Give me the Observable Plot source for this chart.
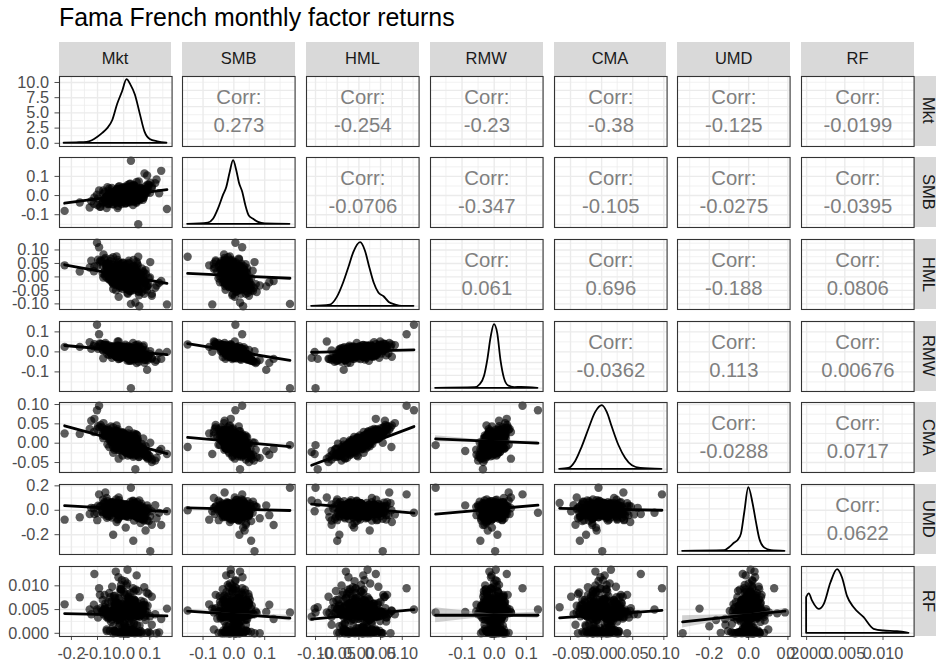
<!DOCTYPE html>
<html><head><meta charset="utf-8">
<script src="https://cdn.jsdelivr.net/npm/d3@7"></script>
<script src="https://cdn.jsdelivr.net/npm/@observablehq/plot@0.6"></script>
<style>
body{margin:0;background:#fff;overflow:hidden;}
#root{position:relative;width:936px;height:664px;overflow:hidden;font-family:"Liberation Sans",Arial,Helvetica,sans-serif;background:#fff;}
.abs{position:absolute;}
.strip{background:#d9d9d9;color:#1a1a1a;font-size:16.5px;display:flex;align-items:center;justify-content:center;}
.strip.right span{writing-mode:vertical-rl;}
</style></head>
<body><div id="root"></div>
<script>
const factors = ["Mkt","SMB","HML","RMW","CMA","UMD","RF"];

// monthly factor returns, in percent (one entry per month, aligned by index)
const Mkt = [2.1,-3.4,0.8,4.6,-1.2,1.9,-5.8,3.3,0.2,-2.5,
6.1,1.1,-0.7,2.8,-4.1,0.5,3.9,-1.8,1.5,-7.2,
4.2,0.9,-2.9,2.4,7.5,-0.3,1.7,-3.8,0.1,5.2,
-1.5,2.9,-6.4,1.3,3.6,-2.1,0.6,8.3,-0.9,2.2,
-4.7,1.0,4.9,-2.6,0.4,3.1,-9.1,1.8,-0.5,5.7,
-3.1,2.6,0.0,-1.4,6.8,1.4,-5.2,3.5,-0.1,2.0,
-2.3,4.4,0.7,-8.0,1.6,3.0,-1.0,9.6,-3.6,0.3,
2.7,-4.4,1.2,5.0,-0.6,-11.4,3.8,0.9,-2.0,4.0,
-6.9,1.9,2.5,-1.1,10.8,0.2,-3.2,3.4,-0.8,6.4,
-1.7,1.5,-13.0,2.3,0.6,-4.0,4.7,1.1,-2.7,12.6,
-0.4,3.2,-9.8,0.8,5.5,-1.9,2.1,-16.8,13.6,-7.8,
-22.6,16.6,2.8,5.6,-10.2,10.2,3.7,-9.4,-12.4,-11.2,
14.4,8.4,-4.0,1.5,-3.0,5.0,9.0,6.0,4.5,8.0,
-7.0,-6.5,4.0,6.5,-2.0,0.5,-1.0,
2.5,-4.0,6.7,1.1,-8.8,5.2,-1.4,9.2,1.8,-3.4,
4.3,-5.9,0.5,7.7,-2.0,3.1,-10.1,5.8,0.0,3.6,
-4.9,10.8,-0.7,2.2,-7.0,4.7,-2.3,8.6,1.6,-4.5,
6.1,-0.4,3.2,-7.7,4.1,-1.1,10.1,0.7,-2.9,5.0,
-5.4,2.7,-1.6,7.0,-3.6,1.3,12.1,-2.5,4.0,-0.5,
2.0,-6.5,7.2,0.4,-3.1,4.5,-0.9,5.4,-4.3,2.9,
-7.2,1.4,3.8,-1.8,6.3,-0.2,2.3,-5.0,8.3,0.9,
-2.2,4.9,-1.3,3.4,-6.1,0.2,9.5,-0.7,2.5,-3.8,
5.6,-1.6,1.6,-8.3,3.6,0.5,-2.7,7.4,-1.1,3.1,
-4.7,1.1,4.3,-0.5,6.5,-3.2,1.8,-5.6,4.0,0.2,
-1.8,5.9,1.4,-4.1,2.7,-0.4,7.9,-6.7,0.7,3.2,
-1.4,4.7,-3.4,1.1,6.8,-2.0,2.2,-5.2,1.6,5.2,
-0.9,2.9,-6.3,0.4,4.1,-2.5,8.8,0.0,-4.0,2.3,
5.4,-1.3,3.4,-2.9,0.9,4.9,-4.7,2.0,-0.5,5.9,
2.0,-3.3,4.6,-0.9,-7.3,3.7,0.4,7.0,-4.2,2.4,
0.9,-5.3,3.5,-1.3,5.5,-2.4,-5.9,9.0,1.3,-6.2,
2.0,5.9,-2.0,7.5,-2.6,0.0,-7.9,2.9,-0.4,4.8,
-3.1,4.0,-1.5,-4.0,6.4,-0.7,1.8,-4.8,3.1,-0.2,
1.1,5.3,-3.5,1.5,-1.1,2.2,7.9,-4.4,0.7,-1.8,
4.2,-2.2,3.3,-2.9,1.3,-2.0,4.4,0.2,-5.5,1.8,
-1.5,6.6,-3.7,0.0,2.6,-2.2,5.1,-3.1,1.1,-0.4,
2.6,-4.6,0.9,3.7,-0.2,-2.4,5.7,1.5,-0.7,-4.2,
1.3,5.9,-1.1,-5.1,2.4,-1.3,0.7,-2.6,3.3,-0.9,
-1.8,4.6,-3.3,0.2,4.2,-2.9,1.1,3.1,-1.5,2.0];
const SMB = [1.2,-2.1,-0.9,2.7,0.6,-1.8,-3.9,3.6,0.4,1.5,
1.0,-2.6,2.2,0.3,-1.1,4.3,-0.5,-3.2,1.8,-2.4,
5.1,-0.2,0.9,-3.5,3.0,-1.4,2.9,-4.6,0.0,1.9,
-0.7,4.0,-0.3,-2.0,0.8,-5.4,1.3,4.8,-1.6,2.4,
-2.8,0.5,-1.3,3.4,-0.4,1.6,-5.9,-0.8,2.6,0.2,
-1.9,6.2,-3.0,1.1,2.1,-1.2,0.4,-2.3,3.8,0.7,
-0.6,3.1,-4.1,-3.4,1.7,-0.1,-2.5,5.6,0.6,2.0,
-1.5,-2.2,0.9,7.1,-0.9,-4.3,1.4,-3.7,2.8,-0.3,
-1.0,3.3,-2.7,0.1,3.9,-1.7,1.6,0.4,-4.4,2.5,
0.8,4.6,-6.2,-0.6,1.0,-3.1,0.0,2.3,-1.3,8.4,
-2.9,1.9,-1.5,3.0,-2.2,0.3,-0.8,-3.6,1.2,2.7,
-8.0,-7.0,18.2,-15.0,0.5,6.7,5.6,2.7,-3.0,-1.0,
12.9,3.5,1.8,-1.0,2.0,-2.5,10.5,3.0,2.0,11.5,
-3.0,-6.5,1.5,4.0,0.5,0.5,-2.0,
1.6,-2.7,3.8,-0.7,-5.9,3.1,0.4,5.8,-3.4,2.0,
0.7,-4.3,2.9,-1.1,4.5,-2.0,-4.9,7.4,1.1,-5.0,
1.6,4.9,-1.6,6.1,-2.2,0.0,-6.5,2.3,-0.4,4.0,
-2.5,3.2,-1.3,-3.2,5.2,-0.5,1.4,-4.0,2.5,-0.2,
0.9,4.3,-2.9,1.3,-0.9,1.8,6.5,-3.6,0.5,-1.4,
3.4,-1.8,2.7,-2.3,1.1,-1.6,3.6,0.2,-4.5,1.4,
-1.3,5.4,-3.1,0.0,2.2,-1.8,4.1,-2.5,0.9,-0.4,
2.2,-3.8,0.7,3.1,-0.2,-2.0,4.7,1.3,-0.5,-3.4,
1.1,4.9,-0.9,-4.1,2.0,-1.1,0.5,-2.2,2.7,-0.7,
-1.4,3.8,-2.7,0.2,3.4,-2.3,0.9,2.5,-1.3,1.6,
-3.8,2.9,-0.5,1.3,-1.8,4.3,0.4,-3.1,2.3,-1.6,
0.0,3.2,-2.0,1.1,-1.4,3.4,-2.9,0.7,1.8,-0.4,
-3.2,4.0,-0.7,1.4,-2.5,2.0,2.5,-1.1,0.4,-0.2,
3.6,-2.7,0.9,1.6,-1.6,2.2,-1.1,2.9,-2.2,0.7,
2.4,-0.8,1.1,-2.9,1.7,3.8,-1.3,0.6,-0.4,2.9,
-1.7,0.8,1.4,-3.6,0.3,2.0,-4.5,1.6,-0.9,4.4,
-2.2,-0.5,1.9,-1.1,3.2,-2.4,0.9,-0.2,2.6,-3.3,
0.1,1.5,-0.6,-1.9,3.0,0.5,-2.7,1.2,4.9,-1.4,
2.2,-0.1,-3.1,1.8,-0.7,0.7,2.3,-1.6,3.5,-2.0,
0.2,1.0,-1.2,2.7,-0.3,1.3,-2.5,0.4,3.7,-0.8,
-1.0,1.9,-2.3,0.6,2.1,-0.2,-1.5,1.6,-0.6,2.5,
-1.8,0.0,3.1,-0.7,-2.6,1.0,0.9,-0.4,1.7,-1.2,
2.2,-1.9,0.3,-0.6,4.1,-1.0,0.8,-2.1,1.4,-0.3,
2.8,-1.6,0.5,1.2,-0.9,0.1,2.0,-2.8,0.7,-1.1];
const HML = [-0.8,1.9,0.4,-2.2,3.1,-0.3,2.6,-1.7,1.2,-0.9,
-3.0,2.3,0.0,1.5,4.4,-2.6,0.6,-1.4,3.6,1.0,
-4.1,0.9,-2.0,2.8,-1.1,5.2,-0.6,0.2,-3.3,1.4,
1.7,-2.9,3.8,0.1,-0.7,2.0,-1.5,-4.6,0.8,4.9,
-0.5,-3.8,2.2,0.5,1.1,-1.2,5.6,0.7,-2.3,0.3,
3.3,-5.2,1.6,-0.2,-2.0,2.6,0.9,3.9,-1.0,-0.4,
6.3,-3.4,0.2,1.3,-1.9,2.9,-0.8,-0.5,-1.6,4.1,
1.0,3.0,-4.5,-2.7,0.6,2.1,-0.1,3.4,-2.4,1.8,
4.7,-1.3,0.0,-3.6,-6.3,2.5,-0.6,1.2,4.8,0.8,
-1.8,-5.9,3.5,0.4,-0.9,2.4,-2.5,1.9,7.6,-3.2,
0.3,-4.0,6.4,-1.1,1.5,-7.4,2.7,2.0,-2.2,-0.2,
4.3,-10.2,-10.0,7.5,12.7,5.5,-5.0,11.0,6.0,3.9,
-1.5,2.5,-4.5,2.0,-3.0,1.0,-3.5,-10.9,-9.5,-2.0,
7.0,3.0,3.0,-1.0,5.5,-1.0,0.5,
-2.2,3.6,-0.9,2.0,6.1,-4.3,1.3,-3.2,5.2,-1.6,
0.5,2.9,-3.8,1.6,-2.7,3.2,4.1,-5.6,0.9,-0.5,
6.8,-7.0,-0.4,2.3,0.2,-2.9,4.9,1.1,-6.3,1.8,
-1.3,4.0,-1.8,8.3,-4.7,0.4,-0.2,2.7,-5.0,5.6,
-1.1,1.4,-3.4,3.1,0.7,-1.4,-4.0,4.5,-0.7,2.5,
-2.3,3.8,-1.6,0.0,3.4,-3.6,1.1,4.3,-2.0,1.6,
2.2,-3.1,6.3,-0.9,0.4,2.3,-5.2,1.4,-2.0,3.6,
-0.5,0.9,-2.5,2.9,5.0,-1.3,-2.7,0.7,-4.1,3.1,
0.2,-1.1,1.8,5.8,-3.4,1.1,-1.8,2.0,3.4,-0.4,
-1.6,4.7,-2.2,0.5,-0.7,2.5,-2.9,0.0,4.0,-0.7,
1.3,-4.5,2.2,-2.3,0.7,3.2,-1.4,4.3,-0.2,2.7,
-4.0,1.6,1.8,-1.3,0.5,0.9,-2.5,3.1,-0.9,4.9,
-1.4,0.4,1.1,-3.2,2.2,4.1,-3.6,0.2,-2.7,1.3,
-1.1,2.9,-2.0,1.6,-0.5,3.4,-0.4,0.9,-3.1,1.4,
-1.5,3.3,-2.5,1.0,6.5,-4.0,0.8,-5.5,3.5,0.5,
-1.0,4.8,-3.0,-2.0,-1.3,2.3,5.0,-5.0,0.3,-0.5,
6.0,-6.8,1.5,0.3,2.8,-2.3,4.0,-3.5,-4.5,2.0,
-1.8,2.5,-0.8,7.3,-4.3,1.3,-4.8,1.8,-2.0,3.0,
2.3,0.0,-1.5,-0.3,1.5,-1.3,-6.3,4.5,-2.8,0.8,
-1.0,3.8,-3.3,0.5,2.8,-3.0,1.0,1.5,-0.8,0.0,
4.3,-2.3,3.5,0.5,-1.5,2.3,-3.8,2.0,-4.0,2.5,
-0.3,0.5,-1.8,1.3,5.3,-1.0,-5.3,1.8,-3.3,3.0,
-1.5,0.0,2.0,5.8,-2.8,0.3,-0.5,-1.3,3.3,-0.8,
1.0,2.8,-2.0,0.8,-3.5,3.8,-2.0,1.5,2.3,-0.3];
const RMW = [-0.5,1.3,0.6,-1.9,0.2,1.5,2.4,-2.8,-0.3,0.9,
-1.0,2.1,-1.6,0.4,-0.2,-1.2,1.1,0.0,-2.2,3.5,
-3.4,0.8,1.7,0.3,-2.5,-0.8,0.5,2.9,-1.4,0.1,
1.0,-1.8,1.9,-0.6,-0.9,3.1,0.7,-3.9,-0.1,1.2,
0.4,-2.0,0.9,-1.1,1.8,-0.4,4.2,0.2,-2.6,-0.7,
1.4,-4.5,0.0,2.2,-1.3,-0.1,0.6,1.6,-1.5,0.3,
-1.7,-0.2,2.6,1.1,-0.9,0.8,-0.4,-2.1,2.0,-0.8,
-2.3,0.5,1.3,-5.6,0.1,2.8,1.0,-0.5,-1.0,0.6,
3.6,-0.3,1.9,-2.9,-3.0,0.9,-0.6,0.2,1.5,-1.6,
0.4,-3.3,4.8,-1.1,2.4,0.7,-0.5,1.1,-2.4,-4.1,
0.8,-1.9,1.6,-0.7,2.3,5.2,-0.2,2.5,-0.4,-3.2,
2.5,0.0,-18.2,3.7,13.6,0.3,-4.3,8.8,1.5,3.9,
-3.5,-2.0,1.0,0.5,-1.5,-0.8,-9.0,-3.0,-3.5,-5.5,
4.5,3.0,-1.0,-2.5,1.5,0.8,1.5,
0.5,2.0,-2.5,0.9,4.0,-1.6,-0.4,-4.1,2.9,-1.3,
1.6,0.4,-2.2,3.2,-3.6,0.0,2.5,-4.9,1.3,4.5,
-0.7,-3.4,2.2,-4.5,1.4,-0.5,5.2,-1.8,0.7,-2.9,
2.7,-1.4,0.2,3.4,-3.1,1.1,-1.1,3.6,-2.3,0.5,
-0.2,-3.8,2.3,-0.9,1.6,-0.7,-5.0,3.1,0.4,-1.1,
-1.6,2.2,1.1,-0.4,0.7,1.8,-2.7,-0.2,2.5,0.0,
1.3,-4.3,2.0,0.4,-2.0,2.7,-0.9,0.2,0.9,-1.6,
0.5,3.4,-1.1,-2.3,1.4,0.0,-3.2,0.9,1.8,2.3,
-1.3,-3.4,1.4,3.8,-0.7,0.4,-0.5,2.5,-1.8,1.1,
0.7,-2.9,3.1,-0.4,-2.2,1.6,0.0,-1.4,1.3,-0.7,
2.9,-2.0,0.5,-0.9,2.2,-2.5,-0.4,1.8,-1.3,1.4,
0.2,-2.7,2.0,-0.2,1.1,-2.2,2.3,0.4,-1.1,0.7,
2.5,-3.6,0.9,-0.5,1.8,-1.6,-2.3,1.1,-0.7,0.4,
-2.5,2.7,-0.4,-1.3,1.6,-1.4,1.3,-2.0,1.4,0.2,
-0.8,1.3,-2.2,-0.4,2.9,-1.7,0.5,-3.1,-0.6,1.1,
-1.4,2.0,-0.2,-2.6,0.7,-1.0,3.4,-1.9,0.0,-1.2,
1.6,-3.6,0.2,-0.7,2.3,-1.6,0.8,-2.9,-0.5,1.5,
-2.0,0.1,-1.1,2.6,-1.4,0.4,-3.4,-0.2,1.0,-1.7,
1.8,-0.9,0.5,-2.3,1.2,-0.4,-4.0,0.8,-1.3,0.2,
-0.7,2.2,-2.4,-0.1,1.0,-1.5,0.3,-1.8,1.4,-1.0,
2.4,-0.5,-1.3,0.6,-2.1,0.1,-0.8,1.7,-2.8,-0.3,
0.7,-1.6,0.4,-1.1,2.0,-0.1,-3.2,0.2,-0.8,1.3,
-1.9,0.5,-0.5,2.8,-1.2,-0.2,0.9,-2.5,0.4,-1.0,
1.6,-0.4,-1.4,0.2,-2.2,1.1,-0.6,1.9,-1.3,-0.1];
const CMA = [-0.9,1.6,-0.4,-1.8,1.2,0.7,2.3,-1.5,0.9,-0.6,
-2.4,0.5,1.4,0.2,3.0,-1.9,-0.8,0.1,2.1,1.9,
-2.9,-0.3,0.3,1.0,-2.2,2.7,-1.1,1.1,-1.3,-0.5,
0.0,-2.0,3.3,0.6,-0.2,1.7,-1.6,-3.4,0.4,1.8,
0.8,-2.5,0.2,-0.7,1.5,-0.9,4.1,-0.1,-0.4,-1.2,
2.4,-3.0,0.3,0.9,-2.6,1.3,0.5,1.1,-1.0,0.0,
3.6,-2.1,0.8,2.0,-0.6,0.9,-1.4,-3.1,0.2,2.2,
-0.3,1.0,-2.3,-1.7,0.6,2.9,-1.3,1.9,-0.2,0.4,
2.6,-0.5,-0.7,-1.2,-4.2,1.0,0.7,0.1,2.8,-1.5,
-0.8,-2.7,3.7,-0.4,0.3,1.4,-1.1,1.6,4.6,-3.8,
-0.2,-2.8,4.4,-0.9,-0.6,-4.0,1.2,2.4,-2.0,1.3,
2.5,-2.8,-0.5,-1.0,8.5,0.1,-3.5,9.7,5.8,6.3,
-1.5,-0.8,-2.5,1.5,-1.0,0.5,-2.0,-2.3,-6.75,-3.0,
3.5,2.0,1.0,-1.5,2.5,-0.5,0.8,
-1.1,2.3,-1.8,0.7,4.7,-2.9,0.5,-4.0,2.5,0.4,
-0.7,3.4,-2.2,-1.4,-0.9,1.6,3.6,-3.6,0.2,-0.4,
4.3,-4.9,1.1,0.2,2.0,-1.6,2.9,-2.5,-3.2,1.4,
-1.3,1.8,-0.5,5.2,-3.1,0.9,-3.4,1.3,-1.4,2.2,
1.6,0.0,-1.1,-0.2,1.1,-0.9,-4.5,3.2,-2.0,0.5,
-0.7,2.7,-2.3,0.4,2.0,-2.2,0.7,1.1,-0.5,0.0,
3.1,-1.6,2.5,0.4,-1.1,1.6,-2.7,1.4,-2.9,1.8,
-0.2,0.4,-1.3,0.9,3.8,-0.7,-3.8,1.3,-2.3,2.2,
-1.1,0.0,1.4,4.1,-2.0,0.2,-0.4,-0.9,2.3,-0.5,
0.7,2.0,-1.4,0.5,-2.5,2.7,-1.4,1.1,1.6,-0.2,
0.9,-3.1,0.7,0.2,-0.4,1.6,-2.2,3.4,-0.4,1.1,
-1.8,-0.2,1.8,-0.9,-1.6,0.9,-0.7,2.5,-0.7,2.0,
0.0,-0.5,2.9,-2.0,0.5,3.1,-3.6,0.7,-1.1,0.4,
-1.8,1.6,-1.1,1.3,0.0,0.7,1.4,0.2,-1.3,-0.7,
-1.1,1.8,-0.5,1.0,3.1,-2.2,0.6,-1.6,2.6,-0.8,
0.3,1.4,-1.9,0.8,-1.4,1.6,2.1,-2.8,0.5,-0.3,
3.4,-3.5,-0.2,1.2,0.1,-1.4,2.4,0.5,-3.2,0.9,
-0.6,2.0,-0.9,4.1,-2.3,0.2,-0.1,1.4,-2.5,2.8,
-0.5,0.7,-1.7,1.5,0.4,-0.7,-2.0,2.3,-0.4,1.3,
-1.2,1.9,-0.8,0.0,1.7,-1.8,0.5,2.2,-1.0,0.8,
1.1,-1.5,3.2,-0.5,0.2,1.2,-2.6,0.7,-1.0,1.8,
-0.3,0.5,-1.3,1.4,2.5,-0.6,-1.4,0.4,-2.1,1.5,
0.1,-0.5,0.9,2.9,-1.7,0.5,-0.9,1.0,1.7,-0.2,
-0.8,2.3,-1.1,0.3,-0.4,1.3,-1.4,0.0,2.0,-0.4];
const UMD = [1.8,-0.5,2.9,-1.4,0.6,4.1,-2.2,0.3,-3.5,1.0,
-0.9,2.2,5.3,-0.2,1.5,-4.4,0.8,3.4,-1.1,2.6,
-2.7,0.1,6.2,-0.7,-3.9,1.3,3.0,-1.8,0.5,-0.4,
2.0,4.7,-6.1,1.2,-2.4,0.9,3.7,-5.0,1.6,-0.1,
2.4,-2.9,0.4,5.8,-1.5,1.9,3.2,-0.8,2.7,-4.8,
0.7,7.1,-1.2,3.9,-2.0,0.0,4.4,-3.1,1.1,2.5,
-7.5,0.2,3.6,-1.6,1.4,-0.6,4.9,-8.9,2.1,-2.6,
0.9,6.6,-0.3,2.8,-4.1,1.7,0.4,-1.9,3.3,-0.9,
2.3,-5.5,1.0,4.2,-11.8,0.6,2.0,-1.3,3.1,-2.3,
8.2,1.5,-3.0,0.3,-0.7,4.6,-1.7,2.6,-9.6,-6.5,
1.9,-0.2,3.8,-14.2,0.8,10.4,-1.0,-5.7,-2.1,5.1,
-7.7,-0.8,18.5,0.0,-2.0,-33.6,-25.0,13.0,2.0,-3.0,
-12.0,-16.6,-20.0,1.0,3.0,-1.5,4.0,8.0,6.0,-4.0,
14.5,10.0,-8.5,-10.5,-7.0,2.0,-2.0,
4.3,-1.4,2.0,-5.2,3.1,6.8,-2.3,1.1,-0.7,5.2,
-3.1,1.4,2.5,-6.5,0.5,3.6,-8.1,2.9,-1.6,7.9,
-4.0,-0.9,3.4,-2.0,5.8,-4.3,1.6,-0.4,4.7,-5.9,
0.2,2.7,-1.1,-3.4,5.4,0.9,-4.9,2.2,8.8,-2.5,
4.0,-0.2,-5.6,3.2,-1.3,1.3,4.1,-2.9,6.3,-3.6,
0.4,1.8,-2.2,4.9,-0.5,2.3,-4.5,0.7,6.7,-1.4,
-1.8,3.4,-4.1,1.1,3.8,-0.4,-2.7,2.9,-1.1,4.5,
-3.2,0.0,5.6,-1.3,-4.7,1.8,1.6,-0.7,3.1,-2.2,
4.0,-3.4,0.5,-1.1,7.4,-1.8,1.4,-3.8,2.5,-0.5,
5.0,-2.9,0.9,2.2,-1.6,0.2,3.6,-5.0,1.3,-2.0,
3.4,-0.7,-4.3,5.9,0.7,-1.1,2.0,-2.5,4.7,-1.4,
0.4,-3.4,2.3,-0.9,5.4,-4.0,1.6,-0.2,2.7,-2.3,
1.1,4.1,-3.1,1.4,-1.6,3.2,-2.0,0.7,3.8,-0.4,
2.9,-2.7,0.5,1.8,-4.7,4.3,-1.3,0.0,3.1,-1.8,
0.9,3.3,-4.2,1.5,6.6,-2.7,-0.6,-6.9,4.8,-2.1,
2.7,0.6,-3.6,5.4,-6.0,0.0,4.2,-8.1,2.1,7.5,
-1.2,-5.7,3.6,-7.5,2.4,-0.9,8.7,-3.0,1.2,-4.8,
4.5,-2.4,0.3,5.7,-5.1,1.8,-1.8,6.0,-3.9,0.9,
-0.3,-6.3,3.9,-1.5,2.7,-1.2,-8.4,5.1,0.6,-1.8,
-2.7,3.6,1.8,-0.6,1.2,3.0,-4.5,-0.3,4.2,0.0,
2.1,-7.2,3.3,0.6,-3.3,4.5,-1.5,0.3,1.5,-2.7,
0.9,5.7,-1.8,-3.9,2.4,0.0,-5.4,1.5,3.0,3.9,
-2.1,-5.7,2.4,6.3,-1.2,0.6,-0.9,4.2,-3.0,1.8,
1.2,-4.8,5.1,-0.6,-3.6,2.7,0.0,-2.4,2.1,-1.2];
const RF = [0.42,0.05,0.38,0.61,0.01,0.45,0.33,0.52,0.00,0.40,
0.36,0.72,0.03,0.47,0.41,0.29,0.88,0.44,0.02,0.55,
0.39,0.12,0.64,0.35,0.48,0.00,0.43,0.78,0.21,0.37,
0.50,0.06,0.46,0.40,0.95,0.31,0.01,0.58,0.42,0.26,
0.67,0.04,0.44,0.39,0.15,0.53,0.81,0.00,0.36,0.45,
0.62,0.41,0.02,0.30,0.49,1.05,0.38,0.08,0.43,0.56,
0.34,0.01,0.47,0.70,0.40,0.24,0.44,0.03,0.51,0.37,
0.85,0.42,0.00,0.46,0.32,0.60,0.10,0.41,1.18,0.35,
0.48,0.02,0.39,0.54,0.18,0.44,0.74,0.01,0.36,0.43,
0.27,0.66,0.50,0.04,0.45,0.38,0.92,0.13,0.47,0.00,
0.57,0.40,0.33,0.01,0.63,0.44,0.07,0.76,0.02,0.49,
0.61,0.52,0.44,0.48,0.50,0.00,0.52,0.95,0.40,1.25,
0.30,0.28,0.15,1.34,1.30,1.22,0.45,0.35,0.55,0.60,
0.42,0.08,0.20,0.05,0.38,1.10,1.02,
0.41,0.36,0.68,0.02,0.53,0.44,0.21,0.58,0.00,0.45,
0.50,0.31,0.81,0.66,0.04,0.37,0.46,0.43,0.55,0.01,
0.40,0.77,0.48,0.41,0.63,0.03,0.44,0.38,0.52,0.29,
0.16,0.06,0.42,0.40,0.71,0.88,0.36,0.00,0.51,0.43,
0.39,0.58,0.33,0.02,0.44,0.49,0.40,0.64,0.45,0.61,
0.41,0.05,0.46,0.38,0.50,0.43,0.92,0.01,0.48,0.42,
0.52,0.39,0.25,0.73,0.44,0.03,0.70,0.36,0.47,0.40,
0.55,0.43,0.00,0.38,0.46,0.42,0.83,0.37,0.44,0.06,
0.41,0.62,0.39,0.45,0.43,0.02,0.48,0.59,0.36,0.52,
0.44,0.41,0.00,0.12,0.39,0.58,0.75,0.37,0.04,0.45,
0.41,0.50,0.38,0.47,0.01,0.44,0.97,0.35,0.66,0.40,
0.48,0.43,0.05,0.45,0.39,0.51,0.62,0.46,0.00,0.37,
0.44,0.41,0.53,0.19,0.40,0.36,0.86,0.02,0.43,0.49,
0.41,0.38,0.06,0.46,0.44,0.57,0.42,0.69,0.45,0.01,
0.45,0.62,0.03,0.39,0.81,0.47,0.00,0.55,0.34,0.72,
0.41,0.05,0.58,0.93,0.44,0.28,0.66,0.01,0.49,0.38,
0.77,0.43,0.02,0.52,0.36,0.87,0.46,0.09,0.61,0.40,
0.33,0.69,0.48,0.00,0.57,1.12,0.42,0.24,0.64,0.04,
0.50,0.37,0.79,0.45,0.01,0.59,0.35,0.98,0.43,0.14,
0.67,0.40,0.06,0.53,0.47,0.74,0.02,0.44,0.85,0.31,
0.48,0.00,0.63,0.39,0.71,0.46,0.17,0.56,1.01,0.42,
0.03,0.51,0.38,0.68,0.45,0.29,0.89,0.07,0.54,0.41,
0.60,0.44,0.00,0.76,0.37,0.49,0.11,0.65,0.43,0.94,
0.40,0.58,0.02,0.47,0.70,0.35,0.83,0.05,0.52,0.46];

// correlation labels shown in the upper triangle
const corrLabels = {
  "Mkt|SMB": "0.273", "Mkt|HML": "-0.254", "Mkt|RMW": "-0.23", "Mkt|CMA": "-0.38", "Mkt|UMD": "-0.125", "Mkt|RF": "-0.0199",
  "SMB|HML": "-0.0706", "SMB|RMW": "-0.347", "SMB|CMA": "-0.105", "SMB|UMD": "-0.0275", "SMB|RF": "-0.0395",
  "HML|RMW": "0.061", "HML|CMA": "0.696", "HML|UMD": "-0.188", "HML|RF": "0.0806",
  "RMW|CMA": "-0.0362", "RMW|UMD": "0.113", "RMW|RF": "0.00676",
  "CMA|UMD": "-0.0288", "CMA|RF": "0.0717",
  "UMD|RF": "0.0622"
};

// linear fit: [y variable, x variable, fitted y at min x, fitted y at max x]
const fitEnds = [
  ["SMB","Mkt",-0.040,0.031],
  ["HML","Mkt",0.045,-0.024], ["HML","SMB",0.013,-0.005],
  ["RMW","Mkt",0.032,-0.014], ["RMW","SMB",0.041,-0.042], ["RMW","HML",-0.002,0.010],
  ["CMA","Mkt",0.045,-0.027], ["CMA","SMB",0.015,-0.009], ["CMA","HML",-0.057,0.043], ["CMA","RMW",0.011,0.000],
  ["UMD","Mkt",0.038,-0.010], ["UMD","SMB",0.019,-0.002], ["UMD","HML",0.051,-0.023], ["UMD","RMW",-0.031,0.042], ["UMD","CMA",0.016,0.000],
  ["RF","Mkt",0.00415,0.00366], ["RF","SMB",0.00469,0.00318], ["RF","HML",0.0030,0.0050], ["RF","RMW",0.0038,0.0038], ["RF","CMA",0.00324,0.00483], ["RF","UMD",0.00242,0.00469]
];

// visible confidence bands: y var, x var, x positions, lower, upper
const seBands = [
  {y: "RF", x: "RMW", at: [-0.182, 0.0, 0.136], lo: [0.0022, 0.0036, 0.0031], hi: [0.0054, 0.0040, 0.0045]},
  {y: "RF", x: "UMD", at: [-0.336, 0.0, 0.185], lo: [0.0011, 0.0037, 0.0042], hi: [0.0037, 0.0040, 0.0052]},
  {y: "RF", x: "SMB", at: [-0.150, 0.0, 0.182], lo: [0.0043, 0.0039, 0.0026], hi: [0.0051, 0.0041, 0.0038]},
  {y: "CMA", x: "RMW", at: [-0.182, 0.0, 0.136], lo: [0.003, 0.0037, -0.005], hi: [0.019, 0.0057, 0.005]}
];

// density curves (diagonal), [x, height relative to peak], and peak densities
const densMkt = [[-0.228,0.002],[-0.18,0.008],[-0.14,0.015],[-0.12,0.04],[-0.10,0.09],[-0.08,0.155],[-0.061,0.23],[-0.042,0.355],[-0.023,0.61],[-0.004,0.81],[0.013,1.0],[0.028,0.915],[0.045,0.76],[0.064,0.455],[0.082,0.175],[0.102,0.06],[0.131,0.024],[0.166,0.002]];
const densSMB = [[-0.150,0.0],[-0.083,0.02],[-0.066,0.08],[-0.050,0.24],[-0.034,0.45],[-0.023,0.58],[-0.012,0.81],[-0.001,1.0],[0.010,0.83],[0.018,0.65],[0.029,0.5],[0.039,0.29],[0.050,0.13],[0.064,0.08],[0.080,0.03],[0.102,0.005],[0.182,0.0]];
const densHML = [[-0.109,0.0],[-0.066,0.02],[-0.050,0.136],[-0.035,0.37],[-0.023,0.61],[-0.012,0.84],[0.004,1.0],[0.015,0.87],[0.025,0.61],[0.035,0.37],[0.046,0.21],[0.058,0.15],[0.070,0.06],[0.085,0.02],[0.100,0.0],[0.127,0.0]];
const densRMW = [[-0.182,0.0],[-0.059,0.01],[-0.043,0.06],[-0.030,0.19],[-0.020,0.44],[-0.0095,0.80],[0.0007,1.0],[0.011,0.86],[0.021,0.44],[0.0315,0.16],[0.044,0.04],[0.064,0.01],[0.085,0.015],[0.136,0.0]];
const densCMA = [[-0.0675,0.0],[-0.0527,0.015],[-0.0419,0.12],[-0.0312,0.35],[-0.0204,0.63],[-0.0097,0.89],[0.0011,1.0],[0.0092,0.89],[0.0172,0.66],[0.028,0.37],[0.0387,0.17],[0.0495,0.056],[0.0629,0.015],[0.097,0.0]];
const densUMD = [[-0.336,0.0],[-0.1215,0.01],[-0.096,0.06],[-0.0705,0.13],[-0.0535,0.17],[-0.0365,0.27],[-0.0195,0.61],[0.0009,1.0],[0.0231,0.74],[0.040,0.45],[0.057,0.19],[0.0826,0.05],[0.1166,0.01],[0.185,0.0]];
const densRF = [[0.0,0.56],[0.00035,0.62],[0.00078,0.505],[0.00165,0.375],[0.0023,0.45],[0.00318,0.79],[0.00405,1.0],[0.0047,0.87],[0.00535,0.58],[0.00622,0.40],[0.00753,0.245],[0.00883,0.0625],[0.0101,0.036],[0.0119,0.026],[0.0134,0.0]];
const densityCurves = {Mkt: densMkt, SMB: densSMB, HML: densHML, RMW: densRMW, CMA: densCMA, UMD: densUMD, RF: densRF};
const densityPeak = {Mkt: 10.46, SMB: 14.4, HML: 19.3, RMW: 24.7, CMA: 21.8, UMD: 15.0, RF: 210};

// axis ticks
const tickValues = {Mkt: [-0.2,-0.1,0,0.1], SMB: [-0.1,0,0.1], HML: [-0.1,-0.05,0,0.05,0.1], RMW: [-0.1,0,0.1], CMA: [-0.05,0,0.05,0.1], UMD: [-0.2,0,0.2], RF: [0,0.005,0.01]};
const tickDigits = {Mkt: 1, SMB: 1, HML: 2, RMW: 1, CMA: 2, UMD: 1, RF: 3};
const mktDensityTicks = [0, 2.5, 5, 7.5, 10];

// ---------------------------------------------------------------
const series = {Mkt, SMB, HML, RMW, CMA, UMD, RF};
const nObs = d3.min(factors, f => series[f].length);
const obs = d3.range(nObs).map(k => Object.fromEntries(factors.map(f => [f, series[f][k] / 100])));
const extents = {}, domains = {};
for (const f of factors) {
  const e = d3.extent(obs, d => d[f]);
  extents[f] = e;
  const pad = (e[1] - e[0]) * 0.05;
  domains[f] = [e[0] - pad, e[1] + pad];
}
function minorOf(major, dom) {
  const s = major[1] - major[0];
  const out = [major[0] - s / 2, ...major.map(v => v + s / 2)];
  return out.filter(v => v > dom[0] && v < dom[1]);
}

const root = document.getElementById("root");
const W = 112.6, H = 70;
const colX = j => 58.7 + j * 123.75;
const rowY = i => 75.7 + i * 81.67;
const FONT = '"Liberation Sans", Arial, Helvetica, sans-serif';

function addDiv(cls, css, html) {
  const d = document.createElement("div");
  d.className = "abs " + cls;
  Object.assign(d.style, css);
  if (html != null) d.innerHTML = html;
  root.appendChild(d);
  return d;
}

addDiv("", {left: "59px", top: "5px", fontSize: "24.9px", lineHeight: "1", color: "#000", whiteSpace: "nowrap"}, "Fama French monthly factor returns");
factors.forEach((f, j) => addDiv("strip", {left: colX(j) + "px", top: "42.3px", width: W + "px", height: "33.4px"}, `<span>${f}</span>`));
factors.forEach((f, i) => addDiv("strip right", {left: "914px", top: rowY(i) + "px", width: "28px", height: H + "px"}, `<span>${f}</span>`));

const n = factors.length;
for (let i = 0; i < n; i++) {
  for (let j = 0; j < n; j++) {
    const rv = factors[i], cv = factors[j];
    const showY = j === 0, showX = i === n - 1;
    const mL = showY ? 64 : 0, mB = showX ? 30 : 0;
    const xDom = domains[cv], xMajor = tickValues[cv];
    let yDom, yMajor, yFmt;
    if (i === j) {
      const pk = densityPeak[cv];
      yDom = [-0.05 * pk, 1.05 * pk];
      yMajor = i === 0 ? mktDensityTicks : d3.ticks(0, pk, 4);
      yFmt = v => v.toFixed(1);
    } else {
      yDom = domains[rv]; yMajor = tickValues[rv];
      const dg = tickDigits[rv]; yFmt = v => v.toFixed(dg);
    }
    const xd = tickDigits[cv];
    const marks = [
      Plot.ruleX(minorOf(xMajor, xDom), {stroke: "#ebebeb", strokeWidth: 0.7}),
      Plot.ruleY(minorOf(yMajor, yDom), {stroke: "#ebebeb", strokeWidth: 0.7}),
      Plot.ruleX(xMajor, {stroke: "#ebebeb", strokeWidth: 1.4}),
      Plot.ruleY(yMajor, {stroke: "#ebebeb", strokeWidth: 1.4})
    ];
    if (i > j) {
      marks.push(Plot.dot(obs, {x: cv, y: rv, r: 4.2, fill: "black", fillOpacity: 0.64, stroke: "none"}));
      const band = seBands.find(b => b.y === rv && b.x === cv);
      if (band) {
        const pts = band.at.map((x, k) => ({x, lo: band.lo[k], hi: band.hi[k]}));
        marks.push(Plot.areaY(pts, {x: "x", y1: "lo", y2: "hi", fill: "#999999", fillOpacity: 0.45}));
      }
      const fit = fitEnds.find(f => f[0] === rv && f[1] === cv);
      const e = extents[cv];
      marks.push(Plot.line([{x: e[0], y: fit[2]}, {x: e[1], y: fit[3]}], {x: "x", y: "y", stroke: "black", strokeWidth: 2.8}));
    } else if (i === j) {
      const pk = densityPeak[cv];
      marks.push(Plot.areaY(densityCurves[cv], {x: d => d[0], y: d => d[1] * pk, fill: "none", stroke: "black", strokeWidth: 1.8, curve: "monotone-x"}));
    } else {
      const lab = corrLabels[rv + "|" + cv];
      marks.push(Plot.text(["Corr:"], {frameAnchor: "middle", text: d => d, dy: -14, fontSize: 20.3, fill: "#7f7f7f"}));
      marks.push(Plot.text([lab], {frameAnchor: "middle", text: d => d, dy: 14.5, fontSize: 20.3, fill: "#7f7f7f"}));
    }
    marks.push(Plot.frame({stroke: "#333333", strokeWidth: 1.1}));
    const svg = Plot.plot({
      width: W + mL, height: H + mB,
      marginLeft: mL, marginRight: 0, marginTop: 0, marginBottom: mB,
      x: {domain: xDom, ticks: xMajor, tickFormat: v => v.toFixed(xd), tickSize: 4, tickPadding: 7, label: null, axis: showX ? "bottom" : null},
      y: {domain: yDom, ticks: yMajor, tickFormat: yFmt, tickSize: 4.5, tickPadding: 6, label: null, axis: showY ? "left" : null},
      style: {fontFamily: FONT, fontSize: "16.3px", color: "#4d4d4d", background: "transparent", overflow: "visible"},
      marks
    });
    const wrap = addDiv("", {left: (colX(j) - mL) + "px", top: rowY(i) + "px"});
    wrap.appendChild(svg);
  }
}
</script>
</body></html>
